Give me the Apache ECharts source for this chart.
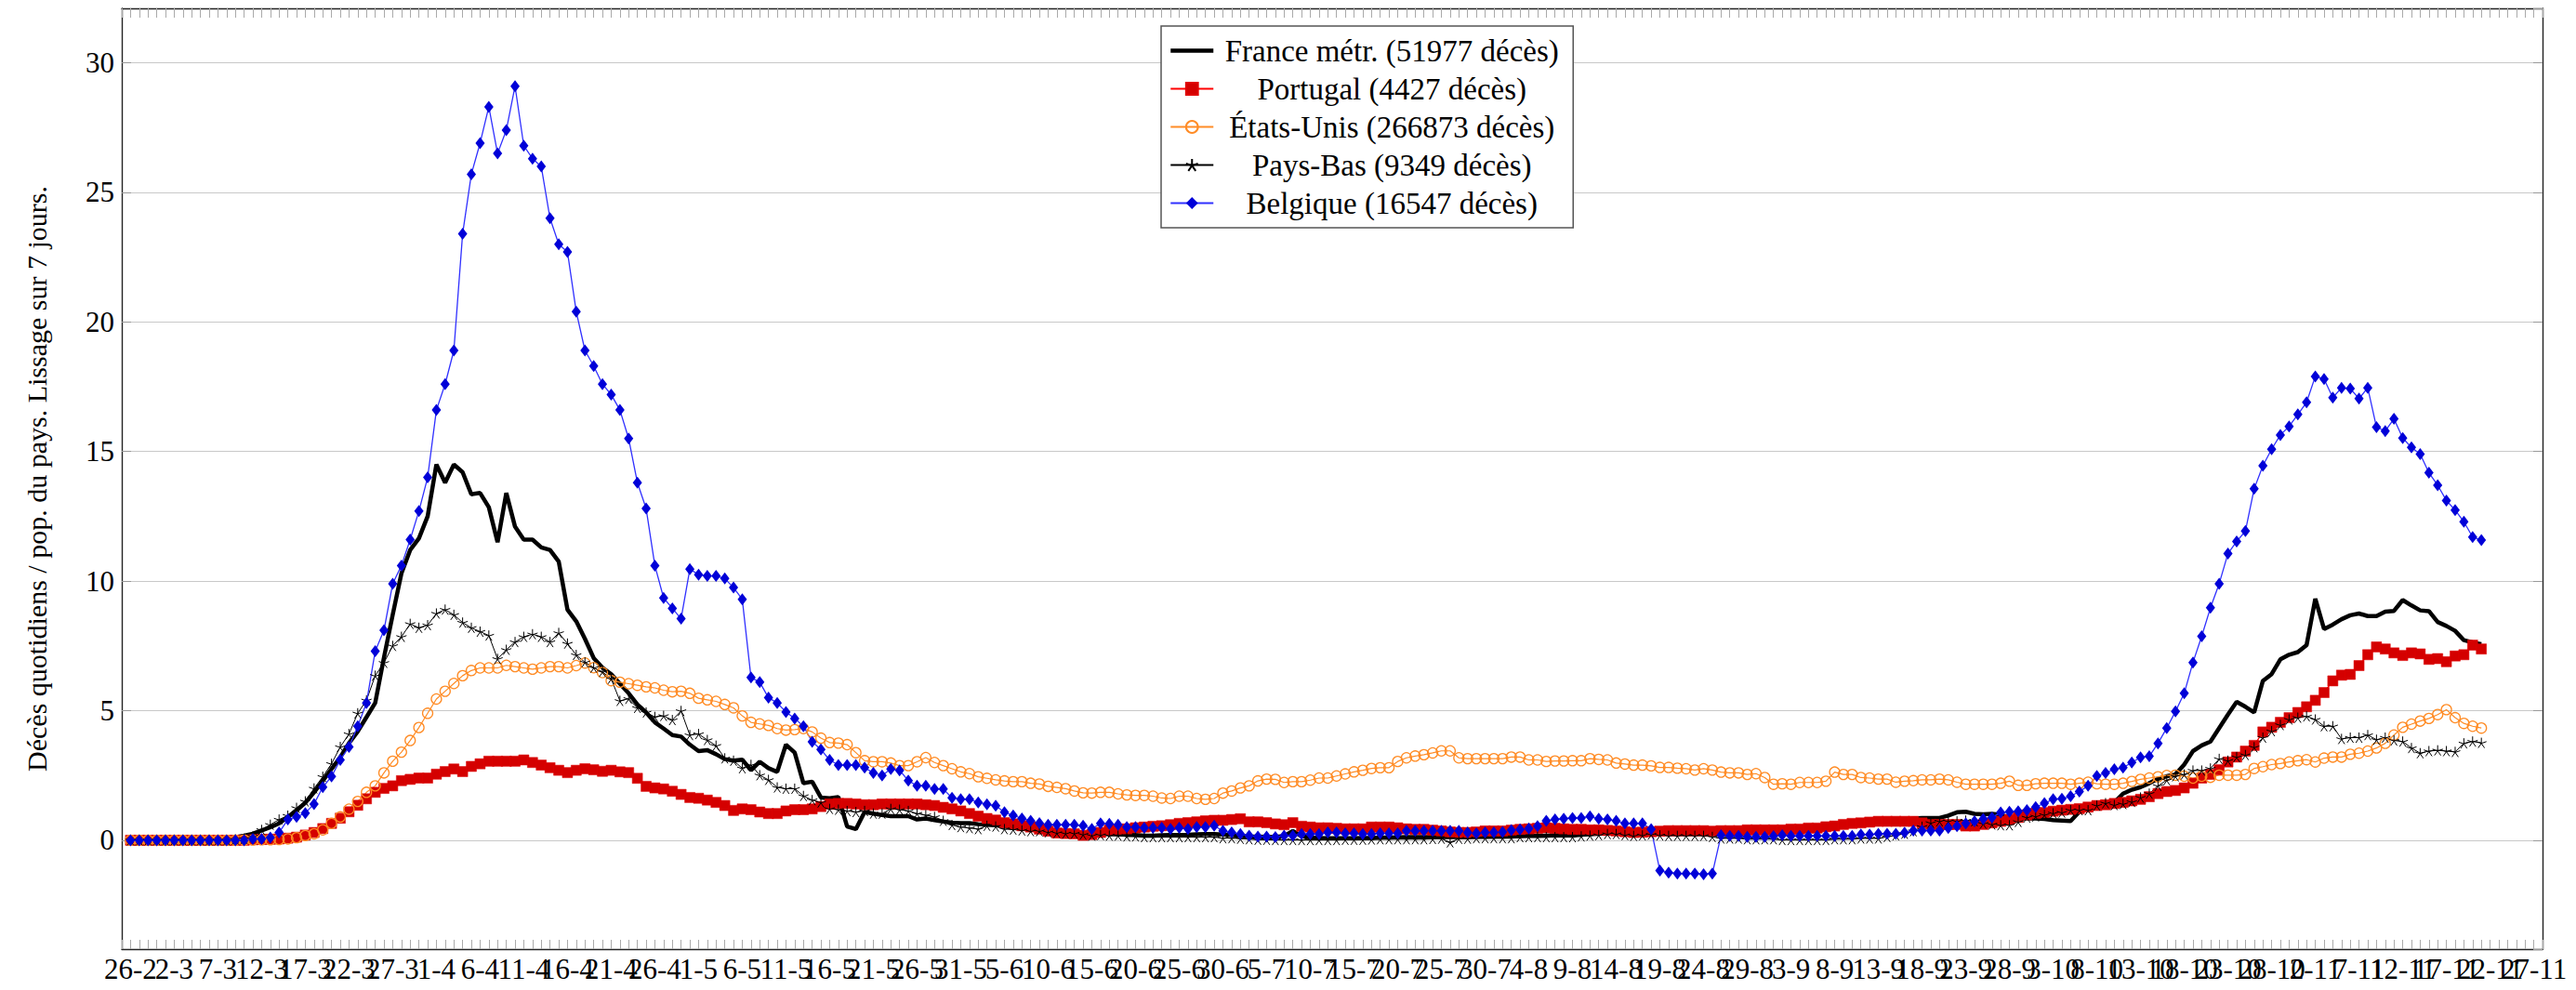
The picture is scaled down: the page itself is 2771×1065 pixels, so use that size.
<!DOCTYPE html>
<html>
<head>
<meta charset="utf-8">
<script src="https://cdn.jsdelivr.net/npm/echarts@6/dist/echarts.min.js"></script>
<style>
  html, body { margin: 0; padding: 0; background: #fff; }
  #main { width: 2771px; height: 1065px; }
</style>
</head>
<body>
<div id="main"></div>
<script>
// axe des x : un jour de marge de chaque côté (25-2 ... 28-11)
const firstDay = [2020, 1, 25]
const dayCount = 278
const days = []
for (let i = 0; i < dayCount; i++) {
  const d = new Date(firstDay[0], firstDay[1], firstDay[2] + i)
  days.push(d.getDate() + '-' + (d.getMonth() + 1))
}

const seriesNames = [
  'France métr. (51977 décès)',
  'Portugal (4427 décès)',
  'États-Unis (266873 décès)',
  'Pays-Bas (9349 décès)',
  'Belgique (16547 décès)'
]

// décès quotidiens / pop., du 26-2 au 21-11 (10 valeurs par ligne)
const france = [
  0, 0, 0, 0, 0.01, 0.01, 0.01, 0.02, 0.03, 0.04,
  0.05, 0.08, 0.12, 0.18, 0.25, 0.38, 0.5, 0.65, 0.9, 1.15,
  1.45, 1.85, 2.3, 2.75, 3.2, 3.75, 4.2, 4.75, 5.3, 7.05,
  8.7, 10.3, 11.2, 11.65, 12.5, 14.5, 13.8, 14.5, 14.2, 13.35,
  13.4, 12.85, 11.5, 13.4, 12.1, 11.6, 11.6, 11.3, 11.2, 10.75,
  8.9, 8.45, 7.77, 7.03, 6.66, 6.41, 6.04, 5.67, 5.24, 4.93,
  4.55, 4.31, 4.06, 4.0, 3.69, 3.44, 3.48, 3.32, 3.13, 3.07,
  3.11, 2.7, 3.03, 2.78, 2.64, 3.69, 3.38, 2.2, 2.26, 1.65,
  1.62, 1.67, 0.53, 0.43, 1.09, 1.03, 0.97, 0.93, 0.93, 0.93,
  0.8, 0.84, 0.78, 0.72, 0.68, 0.66, 0.66, 0.62, 0.6, 0.58,
  0.55, 0.52, 0.5, 0.46, 0.43, 0.4, 0.37, 0.33, 0.3, 0.28,
  0.27, 0.25, 0.24, 0.23, 0.21, 0.2, 0.18, 0.18, 0.19, 0.2,
  0.2, 0.21, 0.23, 0.24, 0.24, 0.22, 0.2, 0.17, 0.15, 0.14,
  0.13, 0.13, 0.16, 0.36, 0.16, 0.1, 0.09, 0.08, 0.08, 0.08,
  0.08, 0.09, 0.09, 0.1, 0.1, 0.11, 0.12, 0.12, 0.12, 0.12,
  0.12, 0.13, 0.12, 0.12, 0.13, 0.13, 0.14, 0.14, 0.15, 0.16,
  0.17, 0.17, 0.18, 0.19, 0.2, 0.21, 0.22, 0.24, 0.25, 0.27,
  0.28, 0.3, 0.3, 0.3, 0.3, 0.32, 0.32, 0.32, 0.33, 0.33,
  0.35, 0.35, 0.36, 0.37, 0.37, 0.38, 0.4, 0.4, 0.42, 0.42,
  0.43, 0.45, 0.46, 0.48, 0.52, 0.58, 0.62, 0.7, 0.74, 0.74,
  0.73, 0.74, 0.74, 0.76, 0.84, 0.86, 0.86, 0.86, 0.95, 1.08,
  1.1, 1.02, 1.0, 1.02, 0.98, 0.88, 0.85, 0.84, 0.84, 0.82,
  0.78, 0.76, 0.74, 1.1, 1.3, 1.44, 1.46, 1.46, 1.8, 1.95,
  2.05, 2.2, 2.37, 2.47, 2.54, 2.92, 3.44, 3.66, 3.81, 4.33,
  4.85, 5.34, 5.15, 4.93, 6.15, 6.41, 6.98, 7.16, 7.26, 7.53,
  9.32, 8.15, 8.32, 8.53, 8.68, 8.75, 8.65, 8.65, 8.82, 8.85,
  9.27, 9.06, 8.87, 8.84, 8.42, 8.27, 8.08, 7.72, 7.63, 7.57
]

const portugal = [
  0, 0, 0, 0, 0, 0, 0, 0, 0, 0,
  0, 0, 0, 0, 0.02, 0.03, 0.04, 0.05, 0.08, 0.12,
  0.2, 0.3, 0.45, 0.65, 0.85, 1.1, 1.35, 1.6, 1.85, 2.0,
  2.1, 2.3, 2.35, 2.4, 2.4, 2.55, 2.65, 2.75, 2.65, 2.85,
  2.95, 3.05, 3.05, 3.05, 3.05, 3.1, 3.0, 2.9, 2.8, 2.7,
  2.61, 2.7, 2.76, 2.72, 2.66, 2.7, 2.64, 2.61, 2.39, 2.08,
  2.02, 1.98, 1.89, 1.77, 1.65, 1.62, 1.55, 1.46, 1.34, 1.15,
  1.21, 1.18, 1.09, 1.03, 1.03, 1.13, 1.18, 1.18, 1.21, 1.3,
  1.4, 1.42, 1.42, 1.4, 1.37, 1.37, 1.4, 1.4, 1.4, 1.4,
  1.4, 1.37, 1.34, 1.27, 1.21, 1.13, 1.03, 0.93, 0.84, 0.78,
  0.68, 0.63, 0.56, 0.51, 0.43, 0.35, 0.28, 0.26, 0.25, 0.19,
  0.22, 0.3, 0.39, 0.42, 0.44, 0.48, 0.51, 0.54, 0.56, 0.6,
  0.65, 0.68, 0.71, 0.75, 0.77, 0.77, 0.8, 0.83, 0.71, 0.71,
  0.68, 0.63, 0.6, 0.68, 0.54, 0.51, 0.48, 0.48, 0.46, 0.44,
  0.44, 0.44, 0.51, 0.51, 0.51, 0.48, 0.44, 0.42, 0.42, 0.39,
  0.36, 0.32, 0.3, 0.3, 0.32, 0.36, 0.36, 0.36, 0.39, 0.42,
  0.44, 0.46, 0.48, 0.46, 0.44, 0.42, 0.42, 0.4, 0.4, 0.38,
  0.36, 0.33, 0.3, 0.31, 0.33, 0.35, 0.37, 0.37, 0.37, 0.37,
  0.37, 0.35, 0.37, 0.37, 0.37, 0.4, 0.4, 0.4, 0.4, 0.4,
  0.43, 0.43, 0.47, 0.47, 0.52, 0.55, 0.61, 0.65, 0.67, 0.7,
  0.73, 0.73, 0.73, 0.73, 0.73, 0.67, 0.61, 0.61, 0.61, 0.61,
  0.55, 0.55, 0.61, 0.67, 0.73, 0.8, 0.88, 0.98, 1.04, 1.07,
  1.12, 1.16, 1.19, 1.22, 1.28, 1.34, 1.37, 1.42, 1.46, 1.52,
  1.58, 1.68, 1.8, 1.88, 1.92, 2.02, 2.2, 2.4, 2.54, 2.72,
  3.02, 3.21, 3.44, 3.66, 4.18, 4.36, 4.55, 4.73, 4.93, 5.15,
  5.4, 5.7, 6.15, 6.37, 6.4, 6.74, 7.16, 7.46, 7.38, 7.23,
  7.13, 7.23, 7.19, 6.98, 7.01, 6.89, 7.11, 7.16, 7.53, 7.38
]

const etatsUnis = [
  0, 0, 0, 0, 0, 0, 0, 0, 0, 0,
  0, 0, 0, 0.01, 0.01, 0.02, 0.02, 0.03, 0.05, 0.1,
  0.18, 0.25, 0.4, 0.65, 0.9, 1.2, 1.5, 1.85, 2.1, 2.6,
  3.05, 3.4, 3.85, 4.35, 4.9, 5.45, 5.75, 6.05, 6.35, 6.55,
  6.65, 6.65, 6.65, 6.75, 6.7, 6.65, 6.6, 6.65, 6.7, 6.7,
  6.65, 6.74, 6.84, 6.66, 6.47, 6.16, 6.1, 6.04, 5.98, 5.92,
  5.88, 5.79, 5.73, 5.75, 5.67, 5.48, 5.42, 5.36, 5.24, 5.11,
  4.8, 4.55, 4.49, 4.43, 4.31, 4.25, 4.27, 4.31, 4.18, 3.94,
  3.77, 3.75, 3.69, 3.38, 3.07, 3.03, 3.03, 2.98, 2.88, 2.88,
  3.03, 3.19, 3.0, 2.88, 2.76, 2.64, 2.57, 2.45, 2.39, 2.33,
  2.29, 2.26, 2.26, 2.2, 2.17, 2.08, 2.04, 1.99, 1.9, 1.83,
  1.82, 1.85, 1.85, 1.79, 1.75, 1.73, 1.73, 1.7, 1.63, 1.61,
  1.7, 1.7, 1.61, 1.58, 1.61, 1.82, 1.9, 2.02, 2.1, 2.29,
  2.36, 2.35, 2.23, 2.26, 2.26, 2.32, 2.4, 2.4, 2.48, 2.56,
  2.64, 2.7, 2.77, 2.8, 2.8, 3.04, 3.18, 3.25, 3.3, 3.37,
  3.45, 3.45, 3.18, 3.15, 3.15, 3.15, 3.15, 3.15, 3.21, 3.21,
  3.1, 3.1, 3.04, 3.06, 3.06, 3.07, 3.07, 3.15, 3.12, 3.1,
  2.98, 2.94, 2.9, 2.9, 2.87, 2.81, 2.81, 2.78, 2.76, 2.71,
  2.76, 2.71, 2.63, 2.6, 2.6, 2.54, 2.57, 2.42, 2.16, 2.18,
  2.16, 2.23, 2.23, 2.23, 2.28, 2.63, 2.54, 2.54, 2.42, 2.4,
  2.36, 2.36, 2.24, 2.28, 2.3, 2.33, 2.33, 2.36, 2.33, 2.24,
  2.16, 2.16, 2.16, 2.16, 2.2, 2.28, 2.12, 2.12, 2.18, 2.2,
  2.2, 2.2, 2.16, 2.2, 2.24, 2.18, 2.16, 2.16, 2.2, 2.27,
  2.35, 2.4, 2.45, 2.5, 2.51, 2.47, 2.4, 2.47, 2.43, 2.51,
  2.51, 2.51, 2.54, 2.77, 2.84, 2.92, 2.96, 3.02, 3.07, 3.11,
  3.02, 3.17, 3.21, 3.21, 3.32, 3.36, 3.44, 3.56, 3.74, 4.06,
  4.36, 4.48, 4.6, 4.7, 4.85, 5.04, 4.73, 4.51, 4.4, 4.33
]

const paysBas = [
  0, 0, 0, 0, 0, 0, 0, 0, 0, 0,
  0, 0, 0.03, 0.06, 0.15, 0.4, 0.6, 0.8, 0.95, 1.25,
  1.5, 2.0, 2.45, 2.95, 3.6, 4.1, 4.9, 5.4, 6.35, 6.85,
  7.5, 7.85, 8.35, 8.2, 8.3, 8.75, 8.9, 8.7, 8.4, 8.2,
  8.05, 7.9, 7.0, 7.35, 7.65, 7.85, 7.95, 7.85, 7.65, 8.0,
  7.59, 7.15, 6.87, 6.66, 6.5, 6.23, 5.38, 5.46, 5.11, 4.93,
  4.76, 4.8, 4.64, 4.99, 4.06, 4.1, 3.87, 3.65, 3.16, 3.07,
  2.78, 2.91, 2.51, 2.33, 2.04, 1.99, 1.99, 1.71, 1.55, 1.46,
  1.21, 1.18, 1.13, 1.09, 1.13, 1.03, 1.03, 1.21, 1.18, 1.13,
  1.03, 0.97, 0.9, 0.75, 0.59, 0.51, 0.47, 0.43, 0.56, 0.53,
  0.43, 0.41, 0.38, 0.35, 0.35, 0.31, 0.28, 0.26, 0.26, 0.22,
  0.18, 0.2, 0.18, 0.18, 0.15, 0.15, 0.12, 0.12, 0.12, 0.12,
  0.12, 0.12, 0.12, 0.12, 0.12, 0.08, 0.08, 0.06, 0.04, 0.02,
  0.02, 0.01, 0.01, 0.01, 0.01, 0.01, 0.01, 0.01, 0.01, 0.02,
  0.02, 0.02, 0.03, 0.04, 0.04, 0.04, 0.04, 0.04, 0.04, 0.05,
  0.06, -0.08, 0.06, 0.06, 0.08, 0.08, 0.08, 0.08, 0.08, 0.12,
  0.12, 0.12, 0.12, 0.12, 0.12, 0.12, 0.15, 0.18, 0.2, 0.24,
  0.24, 0.2, 0.17, 0.19, 0.22, 0.19, 0.17, 0.17, 0.17, 0.17,
  0.17, 0.13, 0.07, 0.07, 0.07, 0.04, 0.04, 0.04, 0.04, 0.01,
  0.01, 0.01, 0.01, 0.01, 0.01, 0.04, 0.04, 0.04, 0.07, 0.07,
  0.07, 0.13, 0.19, 0.25, 0.35, 0.52, 0.67, 0.73, 0.73, 0.73,
  0.76, 0.73, 0.64, 0.61, 0.58, 0.58, 0.71, 0.88, 0.92, 0.98,
  1.04, 1.07, 1.16, 1.16, 1.16, 1.34, 1.43, 1.36, 1.4, 1.48,
  1.65, 1.8, 2.1, 2.32, 2.47, 2.54, 2.69, 2.69, 2.77, 3.14,
  3.07, 3.21, 3.29, 3.59, 3.96, 4.21, 4.45, 4.66, 4.73, 4.78,
  4.66, 4.4, 4.4, 3.91, 3.96, 3.96, 4.06, 3.88, 3.96, 3.85,
  3.81, 3.56, 3.36, 3.44, 3.47, 3.44, 3.41, 3.74, 3.81, 3.76
]

const belgique = [
  0, 0, 0, 0, 0, 0, 0, 0, 0, 0,
  0, 0, 0, 0, 0.05, 0.05, 0.1, 0.3, 0.8, 0.9,
  1.05, 1.4, 2.05, 2.46, 3.1, 3.6, 4.4, 5.3, 7.3, 8.1,
  9.9, 10.6, 11.6, 12.7, 14.0, 16.6, 17.6, 18.9, 23.4, 25.7,
  26.9, 28.3, 26.5, 27.4, 29.1, 26.8, 26.3, 26.0, 24.0, 23.0,
  22.7, 20.4, 18.9, 18.3, 17.6, 17.2, 16.6, 15.5, 13.8, 12.8,
  10.6, 9.35, 8.95, 8.55, 10.46, 10.25, 10.2, 10.2, 10.1, 9.75,
  9.3, 6.28, 6.1, 5.5, 5.3, 4.95, 4.7, 4.4, 3.8, 3.5,
  3.1, 2.9, 2.9, 2.9, 2.8, 2.6, 2.5, 2.75, 2.7, 2.3,
  2.1, 2.1, 1.98, 1.98, 1.64, 1.58, 1.58, 1.46, 1.39, 1.33,
  1.08, 0.96, 0.84, 0.75, 0.66, 0.6, 0.6, 0.6, 0.6, 0.56,
  0.44, 0.65, 0.63, 0.6, 0.51, 0.51, 0.48, 0.48, 0.48, 0.44,
  0.48, 0.44, 0.51, 0.51, 0.56, 0.36, 0.3, 0.24, 0.18, 0.14,
  0.14, 0.12, 0.18, 0.18, 0.24, 0.24, 0.24, 0.3, 0.3, 0.27,
  0.27, 0.24, 0.24, 0.27, 0.27, 0.27, 0.36, 0.36, 0.36, 0.36,
  0.36, 0.36, 0.36, 0.3, 0.27, 0.3, 0.3, 0.32, 0.39, 0.42,
  0.45, 0.54, 0.75, 0.8, 0.83, 0.86, 0.86, 0.92, 0.83, 0.8,
  0.75, 0.65, 0.65, 0.65, 0.43, -1.17, -1.25, -1.29, -1.29, -1.29,
  -1.31, -1.29, 0.19, 0.17, 0.17, 0.13, 0.13, 0.13, 0.16, 0.19,
  0.17, 0.17, 0.17, 0.17, 0.17, 0.17, 0.17, 0.17, 0.22, 0.22,
  0.25, 0.25, 0.25, 0.29, 0.37, 0.37, 0.37, 0.37, 0.47, 0.54,
  0.65, 0.73, 0.82, 0.88, 1.07, 1.1, 1.12, 1.16, 1.28, 1.43,
  1.58, 1.6, 1.7, 1.88, 2.1, 2.48, 2.6, 2.74, 2.8, 3.0,
  3.2, 3.24, 3.74, 4.33, 4.97, 5.67, 6.86, 7.87, 8.97, 9.9,
  11.06, 11.53, 11.93, 13.56, 14.45, 15.09, 15.64, 15.97, 16.43, 16.9,
  17.9, 17.8, 17.08, 17.46, 17.43, 17.04, 17.46, 15.94, 15.79, 16.26,
  15.52, 15.16, 14.9, 14.18, 13.7, 13.11, 12.74, 12.29, 11.7, 11.58
]

const serif = "'Liberation Serif', 'DejaVu Serif', serif"
const starPath = 'path://M0,0L0,-10M0,0L9.51,-3.09M0,0L5.88,8.09M0,0L-5.88,8.09M0,0L-9.51,-3.09'

// la première catégorie (25-2) est une marge vide
const pad = list => [null].concat(list)

const chart = echarts.init(document.getElementById('main'), null, { renderer: 'svg' })

const frameLine = { show: true, onZero: false, lineStyle: { color: '#222', width: 1.4 } }
const dayTicks = { show: true, inside: true, interval: 0, length: 10, lineStyle: { color: '#aaa' } }
const labelStyle = { margin: 6, color: '#000', fontFamily: serif, fontSize: 31, hideOverlap: false }

// étiquettes tous les 5 jours, réparties sur deux axes superposés (une sur deux)
// pour que les étiquettes qui se chevauchent restent toutes affichées
const labelAxis = (offsetDays, withTicks) => ({
  type: 'category',
  data: days,
  boundaryGap: false,
  position: 'bottom',
  axisLine: withTicks ? frameLine : { show: false },
  axisTick: withTicks ? dayTicks : { show: false },
  axisLabel: Object.assign({}, labelStyle, {
    interval: index => index >= 1 && (index - 1 - offsetDays) % 10 === 0 && index - 1 >= offsetDays
  }),
  splitLine: { show: false }
})

const yCommon = {
  type: 'value',
  min: -4.2,
  max: 32.1,
  splitNumber: 7,
  axisLine: { show: true, lineStyle: { color: '#222', width: 1.4 } },
  axisTick: { show: true, inside: true, length: 10, lineStyle: { color: '#999' } }
}

const option = {
  animation: false,
  backgroundColor: '#fff',
  grid: { left: 131, right: 36, top: 9, bottom: 44 },
  legend: {
    orient: 'vertical',
    left: 1249,
    top: 28,
    padding: [10, 8, 10, 8],
    itemWidth: 46,
    itemHeight: 16,
    itemGap: 8,
    backgroundColor: '#fff',
    borderColor: '#555',
    borderWidth: 1.5,
    borderRadius: 0,
    data: [
      {
        name: seriesNames[0],
        itemStyle: { color: 'rgba(0,0,0,0)', borderWidth: 0 },
        lineStyle: { color: '#000', width: 4.5 }
      },
      seriesNames[1], seriesNames[2], seriesNames[3], seriesNames[4]
    ],
    formatter: name => '{t|' + name + '}',
    textStyle: {
      color: '#000',
      fontFamily: serif,
      fontSize: 33,
      rich: {
        t: { width: 374, align: 'center', fontFamily: serif, fontSize: 33, lineHeight: 33, color: '#000' }
      }
    }
  },
  xAxis: [
    labelAxis(0, true),
    labelAxis(5, false),
    {
      type: 'category',
      data: days,
      boundaryGap: false,
      position: 'top',
      axisLine: frameLine,
      axisTick: dayTicks,
      axisLabel: { show: false },
      splitLine: { show: false }
    }
  ],
  yAxis: [
    Object.assign({}, yCommon, {
      position: 'left',
      name: 'Décès quotidiens / pop. du pays. Lissage sur 7 jours.',
      nameLocation: 'middle',
      nameGap: 77,
      nameTextStyle: { color: '#000', fontFamily: serif, fontSize: 30 },
      axisLabel: {
        margin: 8,
        color: '#000',
        fontFamily: serif,
        fontSize: 31,
        showMinLabel: false,
        showMaxLabel: false,
        formatter: v => (Math.abs(v % 5) < 1e-9 ? String(v) : '')
      },
      splitLine: { show: true, lineStyle: { color: '#c8c8c8', width: 1.2 } }
    }),
    Object.assign({}, yCommon, {
      position: 'right',
      axisLabel: { show: false },
      splitLine: { show: false }
    })
  ],
  series: [
    {
      name: seriesNames[0],
      type: 'line',
      data: pad(france),
      symbol: 'none',
      showSymbol: false,
      lineStyle: { color: '#000', width: 4.5 },
      itemStyle: { color: '#000' }
    },
    {
      name: seriesNames[1],
      type: 'line',
      data: pad(portugal),
      symbol: 'rect',
      symbolSize: 11,
      showAllSymbol: true,
      lineStyle: { color: '#ff0000', width: 1.3 },
      itemStyle: { color: '#d40000', borderColor: '#e00000', borderWidth: 0.5 }
    },
    {
      name: seriesNames[2],
      type: 'line',
      data: pad(etatsUnis),
      symbol: 'circle',
      symbolSize: 11,
      showAllSymbol: true,
      lineStyle: { color: '#ff8c26', width: 1.2 },
      itemStyle: { color: 'rgba(255,255,255,0)', borderColor: '#ff8c26', borderWidth: 1.3 }
    },
    {
      name: seriesNames[3],
      type: 'line',
      data: pad(paysBas),
      symbol: starPath,
      symbolSize: 11,
      showAllSymbol: true,
      lineStyle: { color: '#000', width: 1 },
      itemStyle: { color: 'rgba(0,0,0,0)', borderColor: '#000', borderWidth: 1 }
    },
    {
      name: seriesNames[4],
      type: 'line',
      data: pad(belgique),
      symbol: 'diamond',
      symbolSize: [10, 13],
      showAllSymbol: true,
      lineStyle: { color: '#3030ff', width: 1.3 },
      itemStyle: { color: '#0000d8' }
    }
  ]
}

chart.setOption(option)
</script>
</body>
</html>
